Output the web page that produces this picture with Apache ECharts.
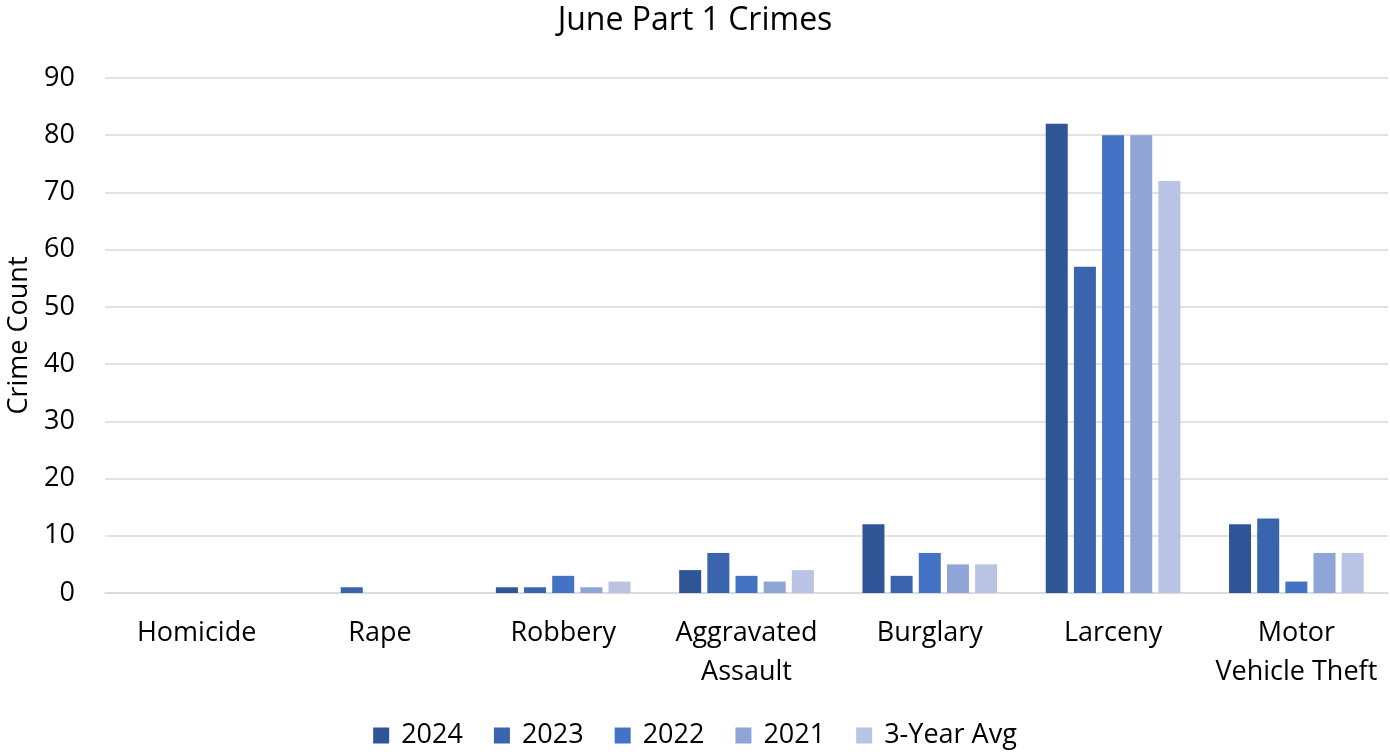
<!DOCTYPE html>
<html><head><meta charset="utf-8">
<script src="https://cdn.jsdelivr.net/npm/echarts@6/dist/echarts.min.js"></script>
<style>html,body{margin:0;padding:0;background:#fff}#c{width:1390px;height:752px}</style>
</head><body><div id="c"></div>
<script>
const categories = ['Homicide','Rape','Robbery','Aggravated\nAssault','Burglary','Larceny','Motor\nVehicle Theft'];
const seriesNames = ['2024','2023','2022','2021','3-Year Avg'];
const v2024 = [0,0,1,4,12,82,12];
const v2023 = [0,1,1,7,3,57,13];
const v2022 = [0,0,3,3,7,80,2];
const v2021 = [0,0,1,2,5,80,7];
const vAvg  = [0,0,2,4,5,72,7];
const yTicks = {min:0,max:90,interval:10};
const colors = ['#2F5597','#3A65AE','#4472C4','#8FA5D5','#B9C3E3'];
const allData = [v2024,v2023,v2022,v2021,vAvg];
const font = '"Open Sans", "Liberation Sans", sans-serif';
const chart = echarts.init(document.getElementById('c'));
chart.setOption({
  animation:false,
  title:{text:'June Part 1 Crimes',left:'center',top:0,textStyle:{fontFamily:font,fontSize:32,fontWeight:'normal',color:'#000'}},
  legend:{top:717,left:'center',itemWidth:16,itemHeight:16,itemGap:31,icon:'rect',
    textStyle:{fontFamily:font,fontSize:27,color:'#000',padding:[0,0,0,7]}},
  grid:{left:105,right:2,top:78,bottom:159,outerBoundsMode:'none',containLabel:false},
  xAxis:{type:'category',data:categories,
    axisLine:{lineStyle:{color:'#D9D9D9',width:1.5}},axisTick:{show:false},
    axisLabel:{fontFamily:font,fontSize:27,color:'#000',margin:21,lineHeight:39,interval:0}},
  yAxis:{type:'value',min:yTicks.min,max:yTicks.max,interval:yTicks.interval,
    name:'Crime Count',nameLocation:'middle',nameGap:72,nameRotate:90,
    nameTextStyle:{fontFamily:font,fontSize:27,color:'#000'},
    splitLine:{lineStyle:{color:'#D9D9D9',width:1.5}},
    axisLabel:{fontFamily:font,fontSize:27,color:'#000',margin:30}},
  series: seriesNames.map((n,i)=>({name:n,type:'bar',data:allData[i],barWidth:22,barGap:'28%',
    itemStyle:{color:colors[i]}}))
});
</script></body></html>
